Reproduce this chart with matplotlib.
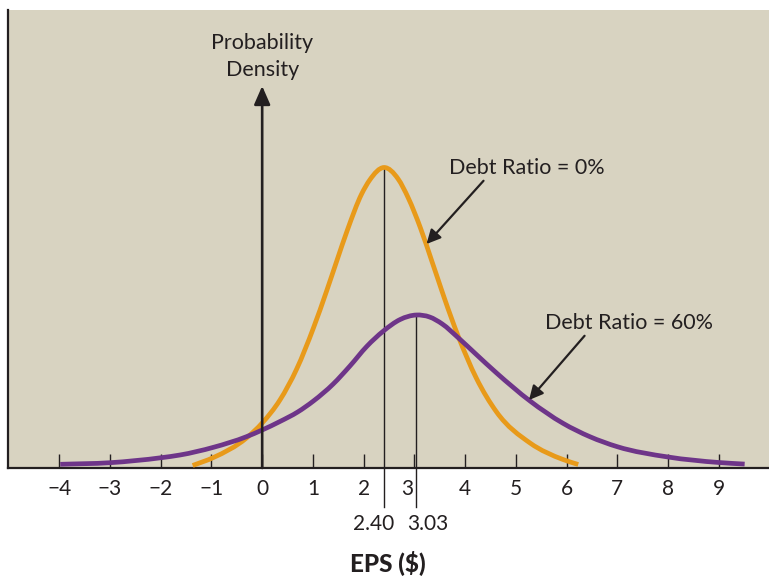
import numpy as np
import matplotlib
matplotlib.use("Agg")
import matplotlib.pyplot as plt
from matplotlib.transforms import ScaledTranslation
from matplotlib.path import Path
from matplotlib.patches import PathPatch

# ---- data (density, arbitrary units) ----
orange_x = [-1.37, -0.96, -0.31, 0.0, 0.35, 0.68, 1.01, 1.27, 1.47, 1.68, 1.96, 2.12,
            2.40, 2.68, 2.88, 3.12, 3.35, 3.47, 3.59, 3.87, 4.22, 4.62, 5.28, 5.93, 6.23]
orange_y = [0.0025, 0.0105, 0.0300, 0.0450, 0.0680, 0.0990, 0.1400, 0.1770, 0.2070, 0.2380,
            0.2740, 0.2880, 0.3005, 0.2890, 0.2700, 0.2400, 0.2060, 0.1880, 0.1700, 0.1310,
            0.0900, 0.0560, 0.0250, 0.0085, 0.0035]

purple_x = [-3.98, -3.0, -1.99, -1.62, -0.96, -0.31, 0.0, 0.35, 0.70, 1.01, 1.40, 1.73, 2.06,
            2.39, 2.72, 3.04, 3.30, 3.55, 3.87, 4.20, 4.62, 5.28, 5.93, 6.46, 7.0, 8.0, 9.0, 9.51]
purple_y = [0.0037, 0.0053, 0.0103, 0.0130, 0.0207, 0.0313, 0.0380, 0.0465, 0.0560, 0.0670,
            0.0840, 0.1020, 0.1215, 0.1370, 0.1485, 0.1530, 0.1510, 0.1440, 0.1300, 0.1145,
            0.0950, 0.0670, 0.0447, 0.0313, 0.0213, 0.0110, 0.0055, 0.0039]

expected_eps = [2.40, 3.03]
expected_labels = ["2.40", "3.03"]
tick_values = list(range(-4, 10))
tick_labels = [("\u2212%d" % -v) if v < 0 else str(v) for v in tick_values]
series_names = ["Debt Ratio = 0%", "Debt Ratio = 60%"]

# ---- styling ----
BG = "#d8d3c1"
ORANGE = "#e89a1a"
PURPLE = "#6e3589"
DARK = "#231f20"
FONT = "Lato"
FS = 15

W, H = 769, 576
fig = plt.figure(figsize=(W / 100, H / 100), dpi=100)
ax = fig.add_axes([8 / W, (H - 468) / H, 761 / W, 458 / H])
ax.set_facecolor(BG)
ax.set_xlim(-5.01, 9.99)
ax.set_ylim(0, 0.458)

for s in ["top", "right"]:
    ax.spines[s].set_visible(False)
ax.spines["bottom"].set_linewidth(1.6)
ax.spines["bottom"].set_color(DARK)
ax.spines["left"].set_linewidth(1.6)
ax.spines["left"].set_color(DARK)

ax.set_yticks([])
ax.set_xticks(tick_values)
ax.set_xticklabels(tick_labels, fontfamily=FONT, fontsize=FS, color=DARK)
ax.tick_params(axis="x", direction="in", length=10, width=1.0, color=DARK, pad=8)
for lab, v in zip(ax.get_xticklabels(), tick_values):
    if v == 3:
        lab.set_transform(lab.get_transform() + ScaledTranslation(-7 / 100, 0, fig.dpi_scale_trans))


def smooth_path(xs, ys):
    """Curve through the read points, drawn with matplotlib's cubic Bezier segments
    (tangents from the neighbouring points, so the line passes exactly through them)."""
    x = np.asarray(xs, float)
    y = np.asarray(ys, float)
    h = np.diff(x)
    d = np.diff(y) / h
    m = np.empty_like(x)
    m[0], m[-1] = d[0], d[-1]
    m[1:-1] = (h[1:] * d[:-1] + h[:-1] * d[1:]) / (h[:-1] + h[1:])
    verts = [(x[0], y[0])]
    codes = [Path.MOVETO]
    for i in range(len(h)):
        verts += [(x[i] + h[i] / 3, y[i] + m[i] * h[i] / 3),
                  (x[i + 1] - h[i] / 3, y[i + 1] - m[i + 1] * h[i] / 3),
                  (x[i + 1], y[i + 1])]
        codes += [Path.CURVE4] * 3
    return Path(verts, codes)


ax.add_patch(PathPatch(smooth_path(orange_x, orange_y), fill=False, edgecolor=ORANGE,
                       lw=3.4, capstyle="butt", zorder=3))
ax.add_patch(PathPatch(smooth_path(purple_x, purple_y), fill=False, edgecolor=PURPLE,
                       lw=3.4, capstyle="butt", zorder=4))

# expected-value marker lines
peaks = [max(orange_y), max(purple_y)]
for xv, pk in zip(expected_eps, peaks):
    ax.plot([xv, xv], [pk, -0.039], color=DARK, lw=1.0, clip_on=False, zorder=2)

fig.text(373.5 / W, 1 - 524 / H, expected_labels[0], ha="center", va="center",
         fontfamily=FONT, fontsize=FS, color=DARK)
fig.text(428 / W, 1 - 524 / H, expected_labels[1], ha="center", va="center",
         fontfamily=FONT, fontsize=FS, color=DARK)

# y axis arrow
ax.annotate("", xy=(0, 0.382), xytext=(0, 0),
            arrowprops=dict(arrowstyle="-|>,head_length=0.8,head_width=0.35", color=DARK,
                            lw=1.9, shrinkA=0, shrinkB=0, mutation_scale=14), zorder=5)
ax.text(0, 0.425, "Probability", ha="center", va="center", fontfamily=FONT, fontsize=15.5, color=DARK)
ax.text(0, 0.398, "Density", ha="center", va="center", fontfamily=FONT, fontsize=15.5, color=DARK)

# series annotations
ax.annotate(series_names[0], xy=(3.24, 0.224), xytext=(5.21, 0.300), ha="center", va="center",
            fontfamily=FONT, fontsize=FS + 0.5, color=DARK,
            arrowprops=dict(arrowstyle="-|>,head_length=0.6,head_width=0.3", color=DARK, lw=1.6,
                            shrinkA=0, shrinkB=0, mutation_scale=14,
                            relpos=(0.24, 0.0)), zorder=6)
ax.annotate(series_names[1], xy=(5.26, 0.068), xytext=(7.23, 0.145), ha="center", va="center",
            fontfamily=FONT, fontsize=FS + 0.5, color=DARK,
            arrowprops=dict(arrowstyle="-|>,head_length=0.6,head_width=0.3", color=DARK, lw=1.6,
                            shrinkA=0, shrinkB=0, mutation_scale=14,
                            relpos=(0.25, 0.0)), zorder=6)

fig.text(388 / W, 1 - 563 / H, "EPS ($)", ha="center", va="center", fontfamily=FONT,
         fontsize=17.5, fontweight="black", color=DARK)

fig.savefig("out.png", dpi=100, facecolor="white")
